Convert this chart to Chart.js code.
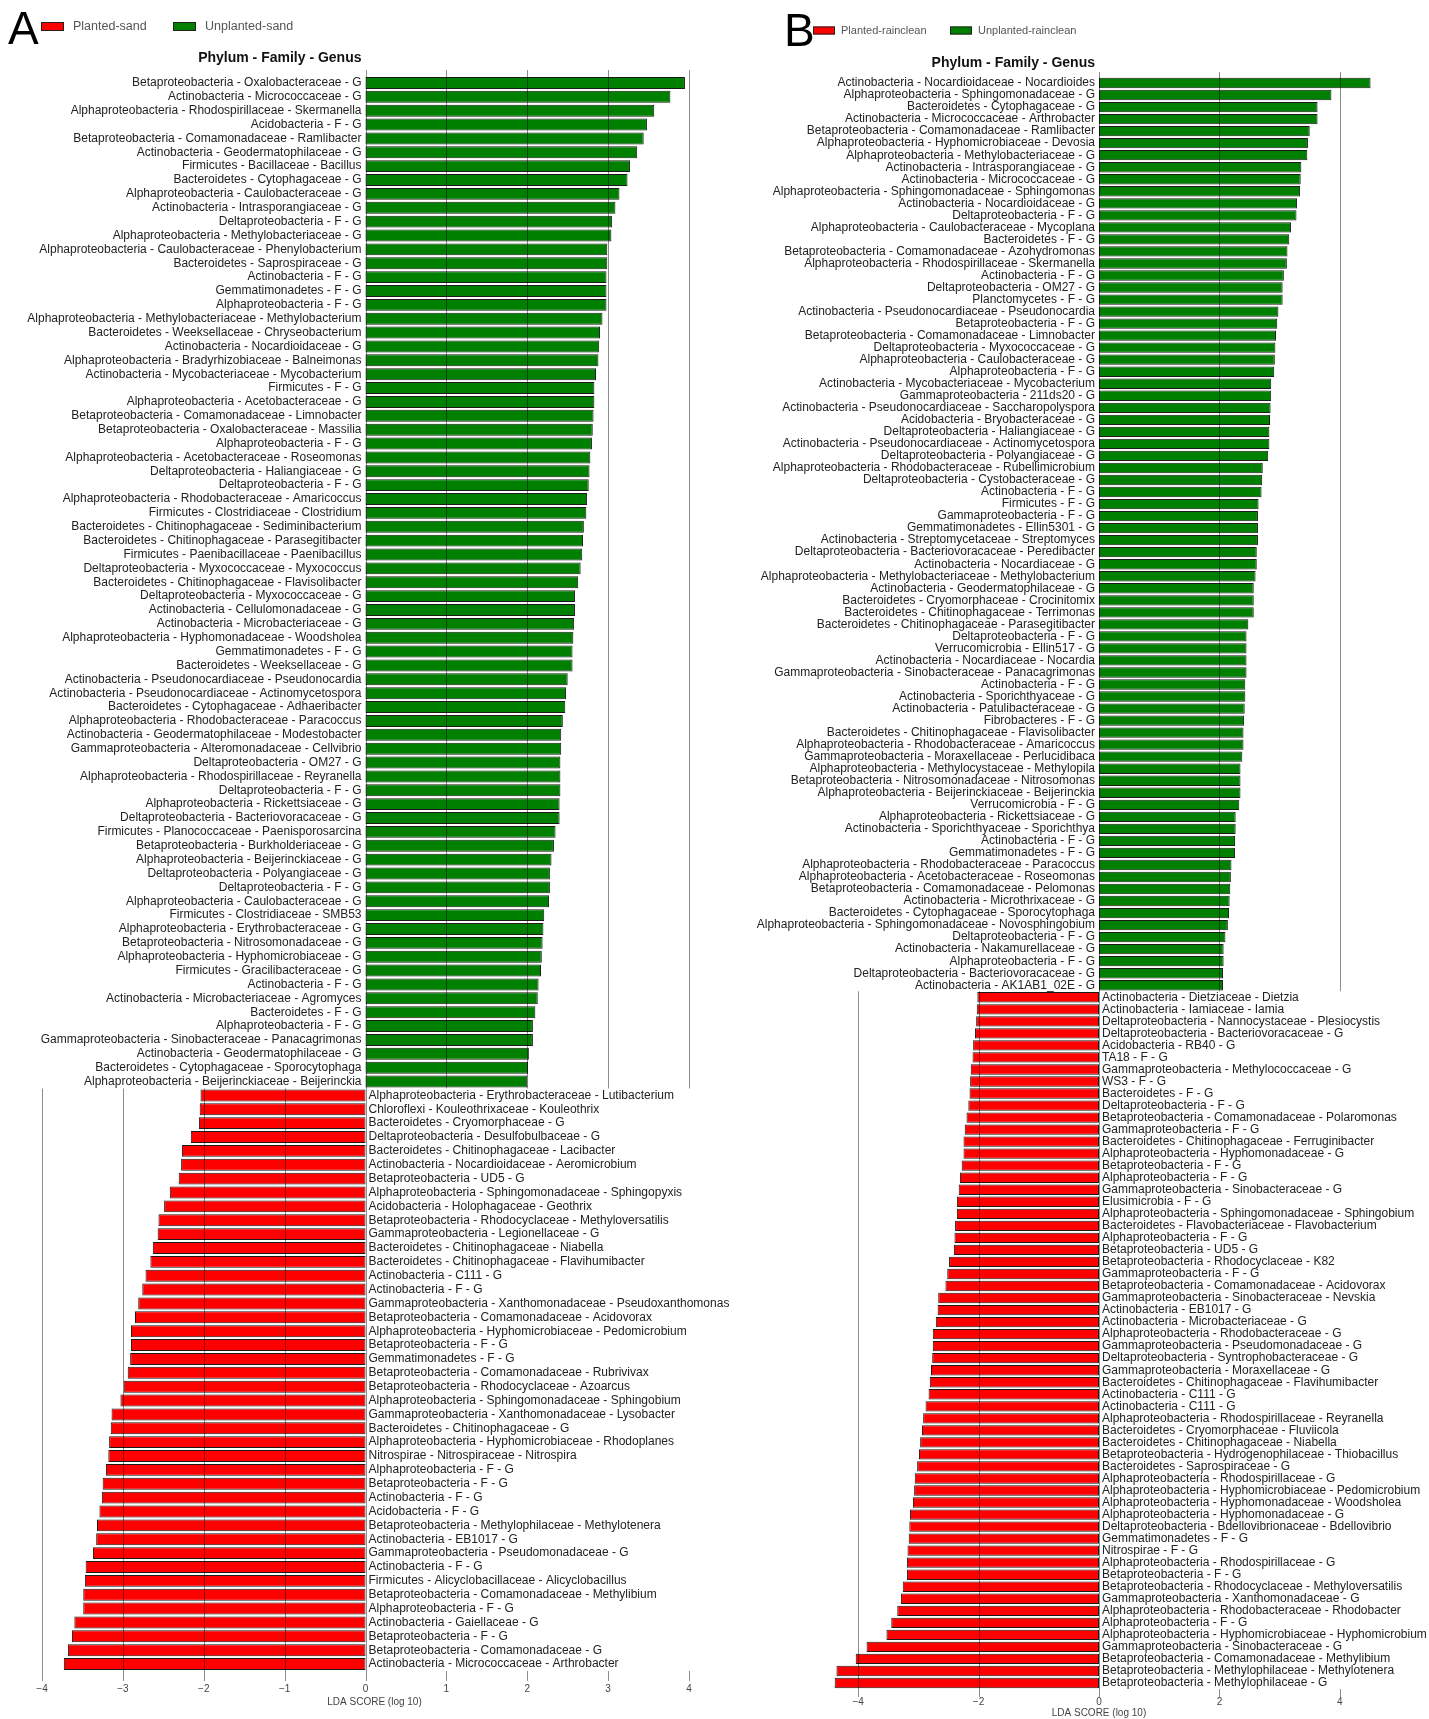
<!DOCTYPE html>
<html>
<head>
<meta charset="utf-8">
<script src="https://cdn.jsdelivr.net/npm/chart.js"></script>
<style>
  body { margin: 0; background: #fff; }
  canvas { position: absolute; top: 0; }
</style>
</head>
<body>
<canvas id="sandChart" width="757" height="1719" style="left:0"></canvas>
<canvas id="rainChart" width="672" height="1719" style="left:757px"></canvas>

<script>
// ---- sand: taxa enriched in unplanted (positive LDA) and planted (negative LDA) ----
const sandUnplantedTaxa = [
  'Betaproteobacteria - Oxalobacteraceae - G',
  'Actinobacteria - Micrococcaceae - G',
  'Alphaproteobacteria - Rhodospirillaceae - Skermanella',
  'Acidobacteria - F - G',
  'Betaproteobacteria - Comamonadaceae - Ramlibacter',
  'Actinobacteria - Geodermatophilaceae - G',
  'Firmicutes - Bacillaceae - Bacillus',
  'Bacteroidetes - Cytophagaceae - G',
  'Alphaproteobacteria - Caulobacteraceae - G',
  'Actinobacteria - Intrasporangiaceae - G',
  'Deltaproteobacteria - F - G',
  'Alphaproteobacteria - Methylobacteriaceae - G',
  'Alphaproteobacteria - Caulobacteraceae - Phenylobacterium',
  'Bacteroidetes - Saprospiraceae - G',
  'Actinobacteria - F - G',
  'Gemmatimonadetes - F - G',
  'Alphaproteobacteria - F - G',
  'Alphaproteobacteria - Methylobacteriaceae - Methylobacterium',
  'Bacteroidetes - Weeksellaceae - Chryseobacterium',
  'Actinobacteria - Nocardioidaceae - G',
  'Alphaproteobacteria - Bradyrhizobiaceae - Balneimonas',
  'Actinobacteria - Mycobacteriaceae - Mycobacterium',
  'Firmicutes - F - G',
  'Alphaproteobacteria - Acetobacteraceae - G',
  'Betaproteobacteria - Comamonadaceae - Limnobacter',
  'Betaproteobacteria - Oxalobacteraceae - Massilia',
  'Alphaproteobacteria - F - G',
  'Alphaproteobacteria - Acetobacteraceae - Roseomonas',
  'Deltaproteobacteria - Haliangiaceae - G',
  'Deltaproteobacteria - F - G',
  'Alphaproteobacteria - Rhodobacteraceae - Amaricoccus',
  'Firmicutes - Clostridiaceae - Clostridium',
  'Bacteroidetes - Chitinophagaceae - Sediminibacterium',
  'Bacteroidetes - Chitinophagaceae - Parasegitibacter',
  'Firmicutes - Paenibacillaceae - Paenibacillus',
  'Deltaproteobacteria - Myxococcaceae - Myxococcus',
  'Bacteroidetes - Chitinophagaceae - Flavisolibacter',
  'Deltaproteobacteria - Myxococcaceae - G',
  'Actinobacteria - Cellulomonadaceae - G',
  'Actinobacteria - Microbacteriaceae - G',
  'Alphaproteobacteria - Hyphomonadaceae - Woodsholea',
  'Gemmatimonadetes - F - G',
  'Bacteroidetes - Weeksellaceae - G',
  'Actinobacteria - Pseudonocardiaceae - Pseudonocardia',
  'Actinobacteria - Pseudonocardiaceae - Actinomycetospora',
  'Bacteroidetes - Cytophagaceae - Adhaeribacter',
  'Alphaproteobacteria - Rhodobacteraceae - Paracoccus',
  'Actinobacteria - Geodermatophilaceae - Modestobacter',
  'Gammaproteobacteria - Alteromonadaceae - Cellvibrio',
  'Deltaproteobacteria - OM27 - G',
  'Alphaproteobacteria - Rhodospirillaceae - Reyranella',
  'Deltaproteobacteria - F - G',
  'Alphaproteobacteria - Rickettsiaceae - G',
  'Deltaproteobacteria - Bacteriovoracaceae - G',
  'Firmicutes - Planococcaceae - Paenisporosarcina',
  'Betaproteobacteria - Burkholderiaceae - G',
  'Alphaproteobacteria - Beijerinckiaceae - G',
  'Deltaproteobacteria - Polyangiaceae - G',
  'Deltaproteobacteria - F - G',
  'Alphaproteobacteria - Caulobacteraceae - G',
  'Firmicutes - Clostridiaceae - SMB53',
  'Alphaproteobacteria - Erythrobacteraceae - G',
  'Betaproteobacteria - Nitrosomonadaceae - G',
  'Alphaproteobacteria - Hyphomicrobiaceae - G',
  'Firmicutes - Gracilibacteraceae - G',
  'Actinobacteria - F - G',
  'Actinobacteria - Microbacteriaceae - Agromyces',
  'Bacteroidetes - F - G',
  'Alphaproteobacteria - F - G',
  'Gammaproteobacteria - Sinobacteraceae - Panacagrimonas',
  'Actinobacteria - Geodermatophilaceae - G',
  'Bacteroidetes - Cytophagaceae - Sporocytophaga',
  'Alphaproteobacteria - Beijerinckiaceae - Beijerinckia'
];
const sandUnplantedLda = [
  3.95, 3.77, 3.57, 3.48, 3.44, 3.36, 3.27, 3.24, 3.14, 3.09,
  3.05, 3.04, 2.99, 2.99, 2.98, 2.98, 2.98, 2.93, 2.90, 2.89,
  2.88, 2.85, 2.83, 2.83, 2.82, 2.81, 2.80, 2.78, 2.77, 2.76,
  2.74, 2.73, 2.70, 2.69, 2.68, 2.66, 2.63, 2.59, 2.59, 2.58,
  2.57, 2.56, 2.56, 2.50, 2.48, 2.47, 2.44, 2.42, 2.42, 2.41,
  2.41, 2.41, 2.40, 2.40, 2.35, 2.33, 2.30, 2.28, 2.28, 2.27,
  2.21, 2.20, 2.19, 2.18, 2.17, 2.14, 2.13, 2.10, 2.07, 2.07,
  2.02, 2.01, 2.00
];
const sandPlantedTaxa = [
  'Alphaproteobacteria - Erythrobacteraceae - Lutibacterium',
  'Chloroflexi - Kouleothrixaceae - Kouleothrix',
  'Bacteroidetes - Cryomorphaceae - G',
  'Deltaproteobacteria - Desulfobulbaceae - G',
  'Bacteroidetes - Chitinophagaceae - Lacibacter',
  'Actinobacteria - Nocardioidaceae - Aeromicrobium',
  'Betaproteobacteria - UD5 - G',
  'Alphaproteobacteria - Sphingomonadaceae - Sphingopyxis',
  'Acidobacteria - Holophagaceae - Geothrix',
  'Betaproteobacteria - Rhodocyclaceae - Methyloversatilis',
  'Gammaproteobacteria - Legionellaceae - G',
  'Bacteroidetes - Chitinophagaceae - Niabella',
  'Bacteroidetes - Chitinophagaceae - Flavihumibacter',
  'Actinobacteria - C111 - G',
  'Actinobacteria - F - G',
  'Gammaproteobacteria - Xanthomonadaceae - Pseudoxanthomonas',
  'Betaproteobacteria - Comamonadaceae - Acidovorax',
  'Alphaproteobacteria - Hyphomicrobiaceae - Pedomicrobium',
  'Betaproteobacteria - F - G',
  'Gemmatimonadetes - F - G',
  'Betaproteobacteria - Comamonadaceae - Rubrivivax',
  'Betaproteobacteria - Rhodocyclaceae - Azoarcus',
  'Alphaproteobacteria - Sphingomonadaceae - Sphingobium',
  'Gammaproteobacteria - Xanthomonadaceae - Lysobacter',
  'Bacteroidetes - Chitinophagaceae - G',
  'Alphaproteobacteria - Hyphomicrobiaceae - Rhodoplanes',
  'Nitrospirae - Nitrospiraceae - Nitrospira',
  'Alphaproteobacteria - F - G',
  'Betaproteobacteria - F - G',
  'Actinobacteria - F - G',
  'Acidobacteria - F - G',
  'Betaproteobacteria - Methylophilaceae - Methylotenera',
  'Actinobacteria - EB1017 - G',
  'Gammaproteobacteria - Pseudomonadaceae - G',
  'Actinobacteria - F - G',
  'Firmicutes - Alicyclobacillaceae - Alicyclobacillus',
  'Betaproteobacteria - Comamonadaceae - Methylibium',
  'Alphaproteobacteria - F - G',
  'Actinobacteria - Gaiellaceae - G',
  'Betaproteobacteria - F - G',
  'Betaproteobacteria - Comamonadaceae - G',
  'Actinobacteria - Micrococcaceae - Arthrobacter'
];
const sandPlantedLda = [
  -2.04, -2.05, -2.06, -2.16, -2.27, -2.28, -2.31, -2.42, -2.49, -2.56,
  -2.57, -2.63, -2.66, -2.72, -2.76, -2.81, -2.85, -2.90, -2.90, -2.91,
  -2.94, -2.99, -3.03, -3.14, -3.15, -3.17, -3.18, -3.21, -3.25, -3.26,
  -3.29, -3.32, -3.33, -3.37, -3.46, -3.47, -3.49, -3.49, -3.60, -3.63,
  -3.68, -3.73
];
const sandTicks = [-4, -3, -2, -1, 0, 1, 2, 3, 4];

// ---- rainclean ----
const rainUnplantedTaxa = [
  'Actinobacteria - Nocardioidaceae - Nocardioides',
  'Alphaproteobacteria - Sphingomonadaceae - G',
  'Bacteroidetes - Cytophagaceae - G',
  'Actinobacteria - Micrococcaceae - Arthrobacter',
  'Betaproteobacteria - Comamonadaceae - Ramlibacter',
  'Alphaproteobacteria - Hyphomicrobiaceae - Devosia',
  'Alphaproteobacteria - Methylobacteriaceae - G',
  'Actinobacteria - Intrasporangiaceae - G',
  'Actinobacteria - Micrococcaceae - G',
  'Alphaproteobacteria - Sphingomonadaceae - Sphingomonas',
  'Actinobacteria - Nocardioidaceae - G',
  'Deltaproteobacteria - F - G',
  'Alphaproteobacteria - Caulobacteraceae - Mycoplana',
  'Bacteroidetes - F - G',
  'Betaproteobacteria - Comamonadaceae - Azohydromonas',
  'Alphaproteobacteria - Rhodospirillaceae - Skermanella',
  'Actinobacteria - F - G',
  'Deltaproteobacteria - OM27 - G',
  'Planctomycetes - F - G',
  'Actinobacteria - Pseudonocardiaceae - Pseudonocardia',
  'Betaproteobacteria - F - G',
  'Betaproteobacteria - Comamonadaceae - Limnobacter',
  'Deltaproteobacteria - Myxococcaceae - G',
  'Alphaproteobacteria - Caulobacteraceae - G',
  'Alphaproteobacteria - F - G',
  'Actinobacteria - Mycobacteriaceae - Mycobacterium',
  'Gammaproteobacteria - 211ds20 - G',
  'Actinobacteria - Pseudonocardiaceae - Saccharopolyspora',
  'Acidobacteria - Bryobacteraceae - G',
  'Deltaproteobacteria - Haliangiaceae - G',
  'Actinobacteria - Pseudonocardiaceae - Actinomycetospora',
  'Deltaproteobacteria - Polyangiaceae - G',
  'Alphaproteobacteria - Rhodobacteraceae - Rubellimicrobium',
  'Deltaproteobacteria - Cystobacteraceae - G',
  'Actinobacteria - F - G',
  'Firmicutes - F - G',
  'Gammaproteobacteria - F - G',
  'Gemmatimonadetes - Ellin5301 - G',
  'Actinobacteria - Streptomycetaceae - Streptomyces',
  'Deltaproteobacteria - Bacteriovoracaceae - Peredibacter',
  'Actinobacteria - Nocardiaceae - G',
  'Alphaproteobacteria - Methylobacteriaceae - Methylobacterium',
  'Actinobacteria - Geodermatophilaceae - G',
  'Bacteroidetes - Cryomorphaceae - Crocinitomix',
  'Bacteroidetes - Chitinophagaceae - Terrimonas',
  'Bacteroidetes - Chitinophagaceae - Parasegitibacter',
  'Deltaproteobacteria - F - G',
  'Verrucomicrobia - Ellin517 - G',
  'Actinobacteria - Nocardiaceae - Nocardia',
  'Gammaproteobacteria - Sinobacteraceae - Panacagrimonas',
  'Actinobacteria - F - G',
  'Actinobacteria - Sporichthyaceae - G',
  'Actinobacteria - Patulibacteraceae - G',
  'Fibrobacteres - F - G',
  'Bacteroidetes - Chitinophagaceae - Flavisolibacter',
  'Alphaproteobacteria - Rhodobacteraceae - Amaricoccus',
  'Gammaproteobacteria - Moraxellaceae - Perlucidibaca',
  'Alphaproteobacteria - Methylocystaceae - Methylopila',
  'Betaproteobacteria - Nitrosomonadaceae - Nitrosomonas',
  'Alphaproteobacteria - Beijerinckiaceae - Beijerinckia',
  'Verrucomicrobia - F - G',
  'Alphaproteobacteria - Rickettsiaceae - G',
  'Actinobacteria - Sporichthyaceae - Sporichthya',
  'Actinobacteria - F - G',
  'Gemmatimonadetes - F - G',
  'Alphaproteobacteria - Rhodobacteraceae - Paracoccus',
  'Alphaproteobacteria - Acetobacteraceae - Roseomonas',
  'Betaproteobacteria - Comamonadaceae - Pelomonas',
  'Actinobacteria - Microthrixaceae - G',
  'Bacteroidetes - Cytophagaceae - Sporocytophaga',
  'Alphaproteobacteria - Sphingomonadaceae - Novosphingobium',
  'Deltaproteobacteria - F - G',
  'Actinobacteria - Nakamurellaceae - G',
  'Alphaproteobacteria - F - G',
  'Deltaproteobacteria - Bacteriovoracaceae - G',
  'Actinobacteria - AK1AB1_02E - G'
];
const rainUnplantedLda = [
  4.51, 3.86, 3.63, 3.63, 3.50, 3.47, 3.46, 3.36, 3.35, 3.34,
  3.29, 3.28, 3.19, 3.16, 3.13, 3.12, 3.07, 3.05, 3.05, 2.98,
  2.96, 2.94, 2.93, 2.92, 2.91, 2.86, 2.86, 2.85, 2.84, 2.83,
  2.83, 2.81, 2.72, 2.71, 2.70, 2.65, 2.64, 2.64, 2.64, 2.62,
  2.62, 2.60, 2.57, 2.57, 2.57, 2.48, 2.45, 2.45, 2.45, 2.45,
  2.43, 2.43, 2.42, 2.41, 2.40, 2.40, 2.38, 2.35, 2.35, 2.35,
  2.33, 2.27, 2.27, 2.26, 2.26, 2.20, 2.19, 2.18, 2.17, 2.16,
  2.14, 2.10, 2.07, 2.07, 2.06, 2.06
];
const rainPlantedTaxa = [
  'Actinobacteria - Dietziaceae - Dietzia',
  'Actinobacteria - Iamiaceae - Iamia',
  'Deltaproteobacteria - Nannocystaceae - Plesiocystis',
  'Deltaproteobacteria - Bacteriovoracaceae - G',
  'Acidobacteria - RB40 - G',
  'TA18 - F - G',
  'Gammaproteobacteria - Methylococcaceae - G',
  'WS3 - F - G',
  'Bacteroidetes - F - G',
  'Deltaproteobacteria - F - G',
  'Betaproteobacteria - Comamonadaceae - Polaromonas',
  'Gammaproteobacteria - F - G',
  'Bacteroidetes - Chitinophagaceae - Ferruginibacter',
  'Alphaproteobacteria - Hyphomonadaceae - G',
  'Betaproteobacteria - F - G',
  'Alphaproteobacteria - F - G',
  'Gammaproteobacteria - Sinobacteraceae - G',
  'Elusimicrobia - F - G',
  'Alphaproteobacteria - Sphingomonadaceae - Sphingobium',
  'Bacteroidetes - Flavobacteriaceae - Flavobacterium',
  'Alphaproteobacteria - F - G',
  'Betaproteobacteria - UD5 - G',
  'Betaproteobacteria - Rhodocyclaceae - K82',
  'Gammaproteobacteria - F - G',
  'Betaproteobacteria - Comamonadaceae - Acidovorax',
  'Gammaproteobacteria - Sinobacteraceae - Nevskia',
  'Actinobacteria - EB1017 - G',
  'Actinobacteria - Microbacteriaceae - G',
  'Alphaproteobacteria - Rhodobacteraceae - G',
  'Gammaproteobacteria - Pseudomonadaceae - G',
  'Deltaproteobacteria - Syntrophobacteraceae - G',
  'Gammaproteobacteria - Moraxellaceae - G',
  'Bacteroidetes - Chitinophagaceae - Flavihumibacter',
  'Actinobacteria - C111 - G',
  'Actinobacteria - C111 - G',
  'Alphaproteobacteria - Rhodospirillaceae - Reyranella',
  'Bacteroidetes - Cryomorphaceae - Fluviicola',
  'Bacteroidetes - Chitinophagaceae - Niabella',
  'Betaproteobacteria - Hydrogenophilaceae - Thiobacillus',
  'Bacteroidetes - Saprospiraceae - G',
  'Alphaproteobacteria - Rhodospirillaceae - G',
  'Alphaproteobacteria - Hyphomicrobiaceae - Pedomicrobium',
  'Alphaproteobacteria - Hyphomonadaceae - Woodsholea',
  'Alphaproteobacteria - Hyphomonadaceae - G',
  'Deltaproteobacteria - Bdellovibrionaceae - Bdellovibrio',
  'Gemmatimonadetes - F - G',
  'Nitrospirae - F - G',
  'Alphaproteobacteria - Rhodospirillaceae - G',
  'Betaproteobacteria - F - G',
  'Betaproteobacteria - Rhodocyclaceae - Methyloversatilis',
  'Gammaproteobacteria - Xanthomonadaceae - G',
  'Alphaproteobacteria - Rhodobacteraceae - Rhodobacter',
  'Alphaproteobacteria - F - G',
  'Alphaproteobacteria - Hyphomicrobiaceae - Hyphomicrobium',
  'Gammaproteobacteria - Sinobacteraceae - G',
  'Betaproteobacteria - Comamonadaceae - Methylibium',
  'Betaproteobacteria - Methylophilaceae - Methylotenera',
  'Betaproteobacteria - Methylophilaceae - G'
];
const rainPlantedLda = [
  -2.02, -2.03, -2.04, -2.06, -2.09, -2.10, -2.13, -2.14, -2.15, -2.17,
  -2.20, -2.23, -2.25, -2.25, -2.28, -2.31, -2.33, -2.36, -2.36, -2.39,
  -2.40, -2.41, -2.49, -2.52, -2.55, -2.67, -2.68, -2.71, -2.76, -2.76,
  -2.77, -2.79, -2.81, -2.83, -2.88, -2.92, -2.94, -2.97, -2.99, -3.02,
  -3.06, -3.07, -3.09, -3.14, -3.15, -3.16, -3.18, -3.19, -3.19, -3.26,
  -3.29, -3.35, -3.45, -3.53, -3.86, -4.04, -4.36, -4.39
];
const rainTicks = [-4, -2, 0, 2, 4];

const FONT = '"Liberation Sans", Arial, sans-serif';

// draws the LEfSe-style decorations: split gridlines, taxon labels, axis text, header
const ldaDecor = {
  id: 'ldaDecor',
  afterDatasetsDraw(chart, args, o) {
    const ctx = chart.ctx;
    const xs = chart.scales.x, ys = chart.scales.y, a = chart.chartArea;
    const labels = chart.data.labels;
    const x0 = xs.getPixelForValue(0);
    const split = (ys.getPixelForValue(o.nUp - 1) + ys.getPixelForValue(o.nUp)) / 2;

    ctx.save();
    // positive ticks only run through the upper block, negative ones through the lower block
    ctx.strokeStyle = 'rgba(0,0,0,0.45)';
    ctx.lineWidth = 1;
    o.ticks.forEach(t => {
      const x = Math.round(xs.getPixelForValue(t)) + 0.5;
      ctx.beginPath();
      if (t > 0) {
        ctx.moveTo(x, a.top - o.tickTop); ctx.lineTo(x, split);
        ctx.moveTo(x, a.bottom); ctx.lineTo(x, a.bottom + o.tickBottom);
      } else if (t < 0) {
        ctx.moveTo(x, split); ctx.lineTo(x, a.bottom + o.tickBottom);
      } else {
        ctx.moveTo(x, a.top - o.tickTop); ctx.lineTo(x, a.bottom + o.tickBottom);
      }
      ctx.stroke();
    });

    // taxon names next to the zero line
    ctx.fillStyle = '#222';
    ctx.font = o.labelSize + 'px ' + FONT;
    ctx.textBaseline = 'middle';
    labels.forEach((name, i) => {
      const y = ys.getPixelForValue(i);
      if (i < o.nUp) {
        ctx.textAlign = 'right';
        ctx.fillText(name, x0 - 4, y);
      } else {
        ctx.textAlign = 'left';
        ctx.fillText(name, x0 + 3, y);
      }
    });

    // x tick labels and axis title
    ctx.fillStyle = '#444';
    ctx.font = '10px ' + FONT;
    ctx.textAlign = 'center';
    o.ticks.forEach(t => {
      const txt = t < 0 ? '\u2212' + Math.abs(t) : String(t);
      ctx.fillText(txt, xs.getPixelForValue(t), a.bottom + o.tickLabelY);
    });
    ctx.fillText('LDA SCORE (log 10)', x0 + o.titleShift, a.bottom + o.axisTitleY);

    // panel title, right-aligned with the upper labels
    ctx.fillStyle = '#111';
    ctx.font = 'bold 14px ' + FONT;
    ctx.textAlign = 'right';
    ctx.fillText('Phylum - Family - Genus', x0 - 4, o.headY);

    // panel letter
    ctx.font = '46px ' + FONT;
    ctx.textAlign = 'left';
    ctx.textBaseline = 'alphabetic';
    ctx.fillStyle = '#000';
    ctx.fillText(o.letter, o.letterX, o.letterY);

    // legend
    ctx.font = o.legendSize + 'px ' + FONT;
    ctx.textBaseline = 'middle';
    chart.data.datasets.forEach((ds, i) => {
      const lx = o.legendX[i];
      ctx.fillStyle = ds.backgroundColor;
      ctx.fillRect(lx, o.legendY - o.legendBox[1] / 2, o.legendBox[0], o.legendBox[1]);
      ctx.strokeStyle = '#222';
      ctx.strokeRect(lx + 0.5, o.legendY - o.legendBox[1] / 2 + 0.5, o.legendBox[0] - 1, o.legendBox[1] - 1);
      ctx.fillStyle = '#555';
      ctx.fillText(ds.label, lx + o.legendBox[0] + o.legendGap, o.legendY);
    });
    ctx.restore();
  }
};

function ldaChart(id, upTaxa, upLda, plTaxa, plLda, names, scale, deco) {
  const labels = upTaxa.concat(plTaxa);
  const upData = upLda.concat(plTaxa.map(() => null));
  const plData = upTaxa.map(() => null).concat(plLda);
  return new Chart(document.getElementById(id), {
    type: 'bar',
    data: {
      labels: labels,
      datasets: [
        { label: names[0], data: plData, backgroundColor: '#ff0000' },
        { label: names[1], data: upData, backgroundColor: '#008000' }
      ]
    },
    options: {
      indexAxis: 'y',
      responsive: false,
      animation: false,
      layout: { padding: scale.padding },
      datasets: {
        bar: {
          grouped: false,
          categoryPercentage: 1,
          barPercentage: 0.86,
          borderColor: '#1a1a1a',
          borderWidth: 1,
          borderSkipped: false
        }
      },
      scales: {
        x: { type: 'linear', min: scale.min, max: scale.max, display: false },
        y: { display: false }
      },
      plugins: {
        legend: { display: false },
        tooltip: { enabled: false },
        ldaDecor: Object.assign({ nUp: upTaxa.length }, deco)
      }
    },
    plugins: [ldaDecor]
  });
}

ldaChart('sandChart', sandUnplantedTaxa, sandUnplantedLda, sandPlantedTaxa, sandPlantedLda,
  ['Planted-sand', 'Unplanted-sand'],
  { min: -4, max: 4, padding: { left: 42, right: 68, top: 76, bottom: 48 } },
  { ticks: sandTicks, labelSize: 12, tickTop: 6, tickBottom: 10, tickLabelY: 18, axisTitleY: 31,
    titleShift: 9, headY: 58, letter: 'A', letterX: 8, letterY: 44,
    legendX: [41, 173], legendY: 26.5, legendBox: [23, 9], legendGap: 9, legendSize: 12.5 });

ldaChart('rainChart', rainUnplantedTaxa, rainUnplantedLda, rainPlantedTaxa, rainPlantedLda,
  ['Planted-rainclean', 'Unplanted-rainclean'],
  { min: -4.6, max: 4.7, padding: { left: 65, right: 47, top: 77, bottom: 30 } },
  { ticks: rainTicks, labelSize: 12, tickTop: 5, tickBottom: 8, tickLabelY: 13, axisTitleY: 24,
    titleShift: 0, headY: 63.5, letter: 'B', letterX: 27, letterY: 46,
    legendX: [56, 193], legendY: 30.5, legendBox: [22, 8], legendGap: 6, legendSize: 11 });
</script>
</body>
</html>
